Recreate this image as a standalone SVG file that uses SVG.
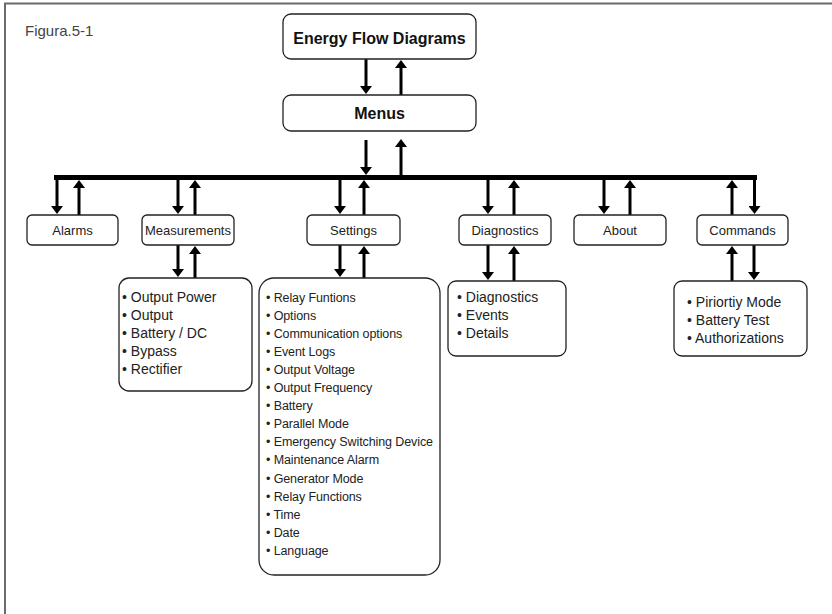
<svg xmlns="http://www.w3.org/2000/svg" width="832" height="614" viewBox="0 0 832 614">
<style>
.box{fill:#fff;stroke:#222;stroke-width:1.3}
.t{font-family:"Liberation Sans",Arial,sans-serif;fill:#222}
.title{font-size:16px;font-weight:bold;text-anchor:middle;fill:#111}
.lbl{font-size:13px;text-anchor:middle}
.li{font-size:14px}
.ls{font-size:12.5px;letter-spacing:-0.1px}
.a{stroke:#000;stroke-width:3;fill:none;marker-end:url(#ah)}
</style>
<defs>
<marker id="ah" viewBox="0 0 8 12" refX="5" refY="6" markerWidth="8" markerHeight="12" markerUnits="userSpaceOnUse" orient="auto">
<path d="M0,0 L8,6 L0,12 z" fill="#000"/>
</marker>
</defs>
<rect width="832" height="614" fill="#fff"/>
<g id="frame" fill="none" stroke="#6a6a6a" stroke-width="2">
<path d="M5,614 V3.5 H832"/>
</g>
<text class="t" x="25" y="36" font-size="15" fill="#444" style="fill:#444">Figura.5-1</text>

<g id="connectors">
<line x1="54" y1="177.5" x2="757" y2="177.5" stroke="#000" stroke-width="5"/>
<line class="a" x1="366" y1="59" x2="366" y2="91"/>
<line class="a" x1="401" y1="95" x2="401" y2="63"/>
<line class="a" x1="366" y1="140" x2="366" y2="172"/>
<line class="a" x1="401" y1="176" x2="401" y2="142"/>

<line class="a" x1="57" y1="175" x2="57" y2="211"/>
<line class="a" x1="79" y1="215" x2="79" y2="183"/>
<line class="a" x1="178" y1="180" x2="178" y2="211"/>
<line class="a" x1="195" y1="215" x2="195" y2="183"/>
<line class="a" x1="340" y1="180" x2="340" y2="211"/>
<line class="a" x1="364" y1="215" x2="364" y2="183"/>
<line class="a" x1="488" y1="180" x2="488" y2="211"/>
<line class="a" x1="514" y1="215" x2="514" y2="183"/>
<line class="a" x1="604" y1="180" x2="604" y2="211"/>
<line class="a" x1="630" y1="215" x2="630" y2="183"/>
<line class="a" x1="732" y1="215" x2="732" y2="183"/>
<line class="a" x1="754.5" y1="175" x2="754.5" y2="211"/>

<line class="a" x1="178" y1="245" x2="178" y2="274"/>
<line class="a" x1="195" y1="278" x2="195" y2="249"/>
<line class="a" x1="340" y1="245" x2="340" y2="274"/>
<line class="a" x1="364" y1="278" x2="364" y2="249"/>
<line class="a" x1="488" y1="245" x2="488" y2="277"/>
<line class="a" x1="514" y1="281" x2="514" y2="249"/>
<line class="a" x1="732" y1="281" x2="732" y2="249"/>
<line class="a" x1="754" y1="245" x2="754" y2="277"/>
</g>

<g id="energy-flow">
<rect class="box" x="283" y="14" width="193" height="45" rx="8"/>
<text class="t title" x="379.5" y="44">Energy Flow Diagrams</text>
</g>
<g id="menus">
<rect class="box" x="283" y="95" width="193" height="36" rx="8"/>
<text class="t title" x="379.5" y="119">Menus</text>
</g>

<g id="alarms">
<rect class="box" x="27" y="215" width="91" height="30" rx="5"/>
<text class="t lbl" x="72.5" y="234.5">Alarms</text>
</g>
<g id="measurements">
<rect class="box" x="142" y="215" width="92" height="30" rx="5"/>
<text class="t lbl" x="188" y="234.5">Measurements</text>
</g>
<g id="settings">
<rect class="box" x="307" y="215" width="93" height="30" rx="5"/>
<text class="t lbl" x="353.5" y="234.5">Settings</text>
</g>
<g id="diagnostics">
<rect class="box" x="459" y="215" width="92" height="30" rx="5"/>
<text class="t lbl" x="505" y="234.5">Diagnostics</text>
</g>
<g id="about">
<rect class="box" x="574" y="215" width="92" height="30" rx="5"/>
<text class="t lbl" x="620" y="234.5">About</text>
</g>
<g id="commands">
<rect class="box" x="697" y="215" width="91" height="30" rx="5"/>
<text class="t lbl" x="742.5" y="234.5">Commands</text>
</g>

<g id="measurements-list">
<rect class="box" x="119" y="278" width="133" height="113" rx="10"/>
<text class="t li" x="122">
<tspan x="122" y="302">• Output Power</tspan>
<tspan x="122" y="320">• Output</tspan>
<tspan x="122" y="338">• Battery / DC</tspan>
<tspan x="122" y="356">• Bypass</tspan>
<tspan x="122" y="374">• Rectifier</tspan>
</text>
</g>

<g id="settings-list">
<rect class="box" x="259" y="278" width="181" height="297" rx="15"/>
<text class="t ls">
<tspan x="266" y="301.5">• Relay Funtions</tspan>
<tspan x="266" y="319.6">• Options</tspan>
<tspan x="266" y="337.7">• Communication options</tspan>
<tspan x="266" y="355.8">• Event Logs</tspan>
<tspan x="266" y="373.9">• Output Voltage</tspan>
<tspan x="266" y="392">• Output Frequency</tspan>
<tspan x="266" y="410.1">• Battery</tspan>
<tspan x="266" y="428.2">• Parallel Mode</tspan>
<tspan x="266" y="446.3">• Emergency Switching Device</tspan>
<tspan x="266" y="464.4">• Maintenance Alarm</tspan>
<tspan x="266" y="482.5">• Generator Mode</tspan>
<tspan x="266" y="500.6">• Relay Functions</tspan>
<tspan x="266" y="518.7">• Time</tspan>
<tspan x="266" y="536.8">• Date</tspan>
<tspan x="266" y="554.9">• Language</tspan>
</text>
</g>

<g id="diagnostics-list">
<rect class="box" x="448" y="281" width="118" height="75" rx="8"/>
<text class="t li">
<tspan x="457" y="302">• Diagnostics</tspan>
<tspan x="457" y="320">• Events</tspan>
<tspan x="457" y="338">• Details</tspan>
</text>
</g>

<g id="commands-list">
<rect class="box" x="674" y="281" width="133" height="75" rx="8"/>
<text class="t li">
<tspan x="687" y="307">• Piriortiy Mode</tspan>
<tspan x="687" y="325">• Battery Test</tspan>
<tspan x="687" y="343">• Authorizations</tspan>
</text>
</g>
</svg>
